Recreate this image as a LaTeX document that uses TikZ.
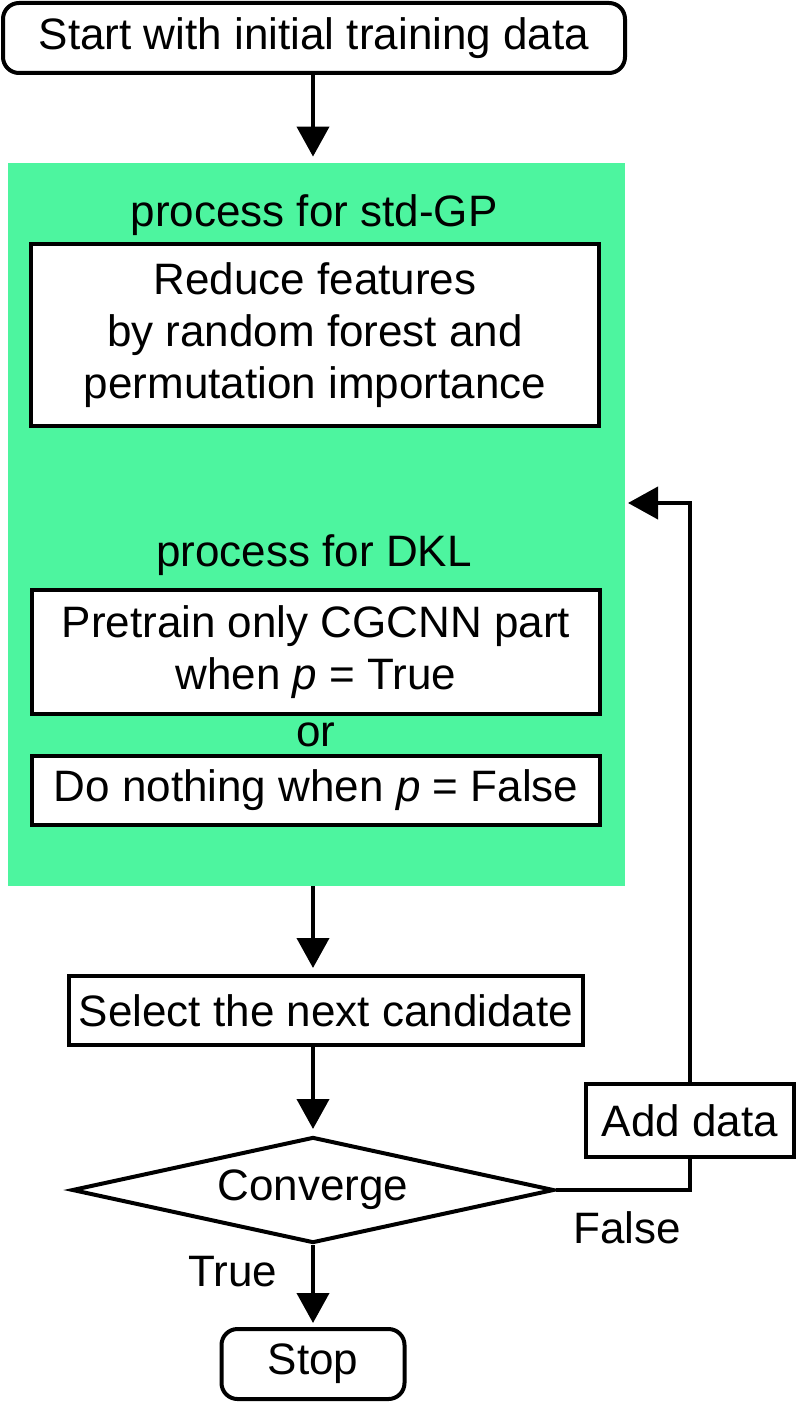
\documentclass[tikz,border=0pt]{standalone}
\usepackage{fontspec}
\setmainfont{Liberation Sans}
\usetikzlibrary{shapes.geometric}
\usetikzlibrary{arrows.meta}
\definecolor{procgreen}{RGB}{77,245,159}

\begin{document}
\begin{tikzpicture}[x=0.5pt,y=-0.5pt,
  every node/.style={font=\fontsize{22}{26}\selectfont},
  box/.style={draw,line width=2pt,fill=white,inner sep=0pt,align=center},
  arr/.style={line width=2pt,-{Triangle[length=15pt,width=16pt]}}]
  \useasboundingbox (0,0) rectangle (796,1407);
  \node (proc) [fill=procgreen,inner sep=0pt,minimum width=308.5pt,minimum height=361.5pt] at (316.5,524.5) {};
  \node (start) [box,rounded corners=8pt,minimum width=311pt,minimum height=35pt] at (314,38) {Start with initial training data};
  \node (stdgp) at (314,215) {process for std-GP};
  \node (reduce) [box,minimum width=284pt,minimum height=91pt] at (315,335) {Reduce features\\by random forest and\\permutation importance};
  \node (dkl) at (314,555) {process for DKL};
  \node (pretrain) [box,minimum width=284pt,minimum height=62pt] at (316,652) {Pretrain only CGCNN part\\when \textit{p} = True};
  \node (or) at (316,735) {or};
  \node (nothing) [box,minimum width=284pt,minimum height=34.5pt] at (316,790.5) {Do nothing when \textit{p} = False};
  \node (select) [box,minimum width=257pt,minimum height=34.5pt] at (326,1010.5) {Select the next candidate};
  \node (dec) [box,diamond,aspect=4.5,minimum width=241pt,minimum height=53pt] at (313,1190) {Converge};
  \node (stop) [box,rounded corners=8pt,minimum width=91.5pt,minimum height=35pt] at (313,1364) {Stop};
  \node (adddata) [box,minimum width=104pt,minimum height=36.5pt] at (690,1120.5) {Add data};
  \node (true) at (233,1272) {True};
  \node (false) at (627,1228) {False};
  \coordinate (back) at (628,503);
  \draw[arr,shorten >=3pt] (start.south -| dec.north) -- (proc.north -| dec.north);
  \draw[arr,shorten >=3pt] (proc.south -| dec.north) -- (select.north -| dec.north);
  \draw[arr,shorten >=3pt] (select.south -| dec.north) -- (dec.north);
  \draw[arr,shorten >=2pt] (dec.south) -- (stop.north);
  \draw[line width=2pt] (dec.east) -| (adddata.south);
  \draw[arr] (adddata.north) |- (back);
\end{tikzpicture}
\end{document}
